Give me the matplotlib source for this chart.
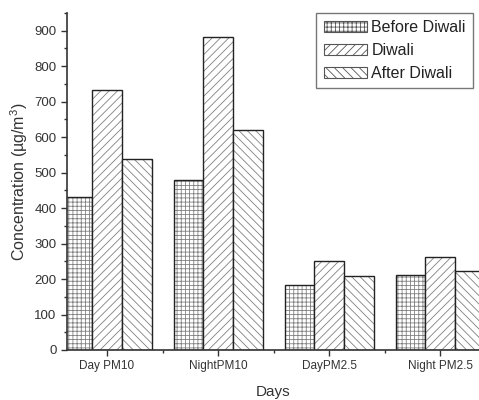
import matplotlib
matplotlib.use("Agg")
import matplotlib.pyplot as plt
import numpy as np
from matplotlib.patches import Patch
from matplotlib.ticker import MultipleLocator, FixedLocator

plt.rcParams['font.family'] = ['Liberation Sans', 'DejaVu Sans']
plt.rcParams['mathtext.fontset'] = 'custom'
plt.rcParams['mathtext.rm'] = 'Liberation Sans'
plt.rcParams['hatch.linewidth'] = 0.6

# data
categories = ["Day PM10", "NightPM10", "DayPM2.5", "Night PM2.5"]
series_names = ["Before Diwali", "Diwali", "After Diwali"]
before = [430, 480, 183, 211]
diwali = [733, 882, 250, 262]
after = [538, 619, 210, 223]

hatches = ["++++", "////", "\\\\\\\\"]
hatch_col = "#808080"

fig = plt.figure(figsize=(4.79, 4.0), dpi=100)
ax = fig.add_axes([0.14, 0.125, 0.86, 0.8425])

x = np.arange(1, len(categories) + 1)
w = 0.267
for i, vals in enumerate([before, diwali, after]):
    pos = x + (i - 1) * w
    # hatch layer in grey, outline in black on top
    ax.bar(pos, vals, width=w, facecolor="white", edgecolor=hatch_col,
           hatch=hatches[i], linewidth=0)
    ax.bar(pos, vals, width=w, facecolor="none", edgecolor="#222222",
           linewidth=1.0)

ax.set_xlim(0.64, 4.35)
ax.set_ylim(0, 950)
ax.set_xticks(x)
ax.set_xticklabels(categories, fontsize=8.5)
ax.xaxis.set_minor_locator(FixedLocator([1.5, 2.5, 3.5]))
ax.yaxis.set_major_locator(MultipleLocator(100))
ax.yaxis.set_minor_locator(MultipleLocator(50))
ax.tick_params(axis="y", labelsize=9.5, length=4, width=1, color="#333333",
               labelcolor="#333333")
ax.tick_params(axis="x", length=4, width=1, color="#333333",
               labelcolor="#333333")
ax.tick_params(which="minor", length=2, width=1, color="#333333")

for s in ["top", "right"]:
    ax.spines[s].set_visible(False)
for s in ["left", "bottom"]:
    ax.spines[s].set_linewidth(1.2)
    ax.spines[s].set_color("#333333")

ax.set_ylabel("Concentration (µg/m$^3$)", fontsize=11.5, color="#333333", labelpad=3)
ax.set_xlabel("Days", fontsize=11, color="#333333", labelpad=9)

handles = [Patch(facecolor="white", edgecolor="#555555", hatch=h, linewidth=0.8)
           for h in hatches]
leg = fig.legend(handles, series_names, loc="upper right",
                 bbox_to_anchor=(473 / 479, 1 - 13 / 400), fontsize=11.5,
                 frameon=True, fancybox=False, edgecolor="#555555",
                 handlelength=2.7, handleheight=0.65, handletextpad=0.3,
                 labelspacing=0.5, borderpad=0.45, borderaxespad=0)
leg.get_frame().set_linewidth(1.0)
for t in leg.get_texts():
    t.set_color("#222222")

fig.savefig("out.png", dpi=100)
